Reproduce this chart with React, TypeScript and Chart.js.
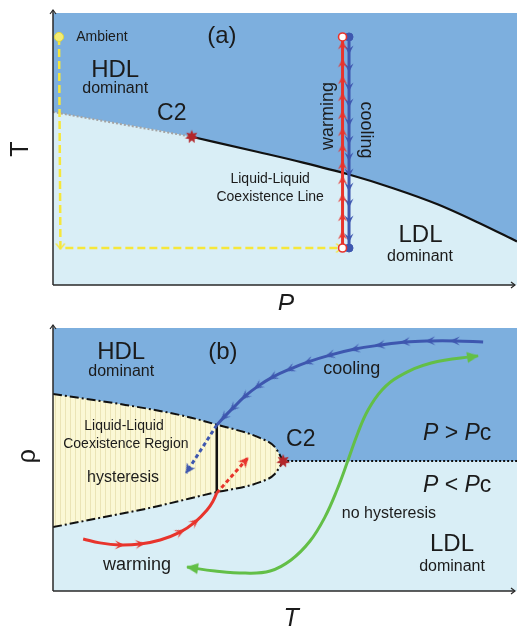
import React, { useEffect, useRef } from 'react';
import { Chart, registerables } from 'chart.js';
Chart.register(...registerables);

type Pt = { x: number; y: number };

// ---------------- Panel (a): T versus P (0..100 schematic units) ----------------
const aHdlTop: Pt[] = [{ x: 0, y: 100 }, { x: 100, y: 100 }];
const aBoundaryDotted: Pt[] = [{ x: 0, y: 63.6 }, { x: 29.9, y: 54.5 }];
const aBoundarySolid: Pt[] = [
  { x: 29.9, y: 54.5 }, { x: 44.2, y: 48.9 }, { x: 53.9, y: 45.0 }, { x: 63.6, y: 40.7 },
  { x: 73.3, y: 35.6 }, { x: 83.0, y: 29.6 }, { x: 91.6, y: 23.0 }, { x: 100, y: 16.0 },
];
const aAmbientPath: Pt[] = [{ x: 1.3, y: 91.2 }, { x: 1.6, y: 13.6 }, { x: 62.0, y: 13.6 }];
const aWarmingP = 62.4;
const aWarmingT = [13.6, 18.4, 25.0, 32.0, 38.6, 44.1, 50.4, 56.3, 62.5, 69.1, 75.4, 81.6, 88.2, 91.2];
const aCoolingP = 63.8;
const aCoolingT = [91.2, 86.4, 79.8, 72.8, 66.9, 59.9, 53.3, 47.1, 41.2, 36.0, 30.1, 23.9, 17.3, 13.6];

// ---------------- Panel (b): rho versus T ----------------
const bHdlTop: Pt[] = [{ x: 0, y: 100 }, { x: 100, y: 100 }];
const bLdlLevel: Pt[] = [{ x: 0, y: 49.4 }, { x: 100, y: 49.4 }];
const bPcLine: Pt[] = [{ x: 49.6, y: 49.4 }, { x: 100, y: 49.4 }];
const bLensUpper: Pt[] = [
  { x: 0, y: 74.9 }, { x: 14.4, y: 71.1 }, { x: 27.4, y: 66.9 }, { x: 35.6, y: 63.1 },
  { x: 44.6, y: 58.2 }, { x: 47.8, y: 54.8 }, { x: 49.6, y: 49.4 },
];
const bLensLower: Pt[] = [
  { x: 0, y: 24.3 }, { x: 10.1, y: 27.8 }, { x: 20.9, y: 31.6 }, { x: 34.5, y: 37.3 },
  { x: 44.6, y: 41.4 }, { x: 47.8, y: 44.5 }, { x: 49.6, y: 49.4 },
];
const bJump: Pt[] = [{ x: 35.3, y: 63.1 }, { x: 35.3, y: 37.6 }];
const bCooling: Pt[] = [
  { x: 92.7, y: 94.7 }, { x: 86.6, y: 95.1 }, { x: 81.3, y: 95.1 }, { x: 75.9, y: 94.7 },
  { x: 70.5, y: 93.5 }, { x: 65.1, y: 92.0 }, { x: 59.7, y: 89.7 }, { x: 55.0, y: 87.1 },
  { x: 51.1, y: 84.4 }, { x: 47.4, y: 81.4 }, { x: 44.2, y: 77.9 }, { x: 41.4, y: 74.1 },
  { x: 38.8, y: 69.6 }, { x: 36.9, y: 66.2 }, { x: 35.3, y: 63.1 },
];
const bCoolingMeta: Pt[] = [{ x: 35.3, y: 63.1 }, { x: 28.7, y: 44.9 }];
const bWarming: Pt[] = [
  { x: 6.5, y: 19.8 }, { x: 10.1, y: 18.3 }, { x: 14.4, y: 17.5 }, { x: 18.8, y: 17.9 },
  { x: 23.1, y: 19.4 }, { x: 27.4, y: 22.4 }, { x: 30.6, y: 26.2 }, { x: 33.2, y: 30.8 },
  { x: 34.5, y: 34.2 }, { x: 35.3, y: 37.3 },
];
const bWarmingArrowIdx = [2, 3, 5, 6];
const bWarmingMeta: Pt[] = [{ x: 35.3, y: 37.3 }, { x: 42.0, y: 50.6 }];
const bSupercritical: Pt[] = [
  { x: 28.9, y: 9.1 }, { x: 34.9, y: 7.6 }, { x: 41.4, y: 6.8 }, { x: 46.8, y: 7.6 },
  { x: 51.3, y: 11.8 }, { x: 55.4, y: 19.0 }, { x: 58.6, y: 28.1 }, { x: 61.2, y: 38.4 },
  { x: 63.6, y: 49.8 }, { x: 65.7, y: 60.1 }, { x: 67.9, y: 68.8 }, { x: 70.9, y: 76.4 },
  { x: 74.4, y: 81.4 }, { x: 81.5, y: 86.7 }, { x: 91.6, y: 89.4 },
];

// ---------------- colours / fonts ----------------
const DARK = '#7DAFDE';
const LIGHT = '#D9EEF6';
const LENS = '#FBF8D5';
const LENS_STRIPE = '#EBE4B6';
const RED = '#E8342C';
const BLUE = '#3E57AF';
const GREEN = '#63BF47';
const YELLOW = '#F6E73A';
const STAR = '#B3262A';
const INK = '#1b1b1b';
const FONT = '"Liberation Sans", Arial, Helvetica, sans-serif';

type Part = { t: string; it?: boolean };
type Label = { text: string | Part[]; x: number; y: number; size: number; rot?: number; align?: 'left' | 'center'; italic?: boolean };

const aLabels: Label[] = [
  { text: 'Ambient', x: 5.0, y: 91.2, size: 14, align: 'left' },
  { text: '(a)', x: 36.4, y: 91.5, size: 24 },
  { text: 'HDL', x: 13.4, y: 78.9, size: 24 },
  { text: 'dominant', x: 13.4, y: 72.1, size: 16 },
  { text: 'C2', x: 25.6, y: 62.9, size: 23 },
  { text: 'Liquid-Liquid', x: 46.8, y: 39.0, size: 14 },
  { text: 'Coexistence Line', x: 46.8, y: 32.4, size: 14 },
  { text: 'warming', x: 59.3, y: 62.1, size: 18, rot: -90 },
  { text: 'cooling', x: 67.5, y: 57.0, size: 18, rot: 90 },
  { text: 'LDL', x: 79.2, y: 18.4, size: 24 },
  { text: 'dominant', x: 79.1, y: 10.3, size: 16 },
  { text: 'T', x: -6.9, y: 50.0, size: 25, rot: -90 },
  { text: 'P', x: 50.2, y: -7.4, size: 25, italic: true },
];

const bLabels: Label[] = [
  { text: 'HDL', x: 14.7, y: 90.7, size: 24 },
  { text: 'dominant', x: 14.7, y: 83.3, size: 16 },
  { text: '(b)', x: 36.6, y: 90.9, size: 24 },
  { text: 'Liquid-Liquid', x: 15.3, y: 62.7, size: 14 },
  { text: 'Coexistence Region', x: 15.7, y: 55.9, size: 14 },
  { text: 'hysteresis', x: 15.1, y: 43.0, size: 16 },
  { text: 'warming', x: 18.1, y: 9.9, size: 18 },
  { text: 'cooling', x: 64.4, y: 84.4, size: 18 },
  { text: 'C2', x: 53.4, y: 57.4, size: 23 },
  { text: [{ t: 'P', it: true }, { t: ' > ' }, { t: 'P', it: true }, { t: 'c' }], x: 87.1, y: 59.7, size: 23 },
  { text: [{ t: 'P', it: true }, { t: ' < ' }, { t: 'P', it: true }, { t: 'c' }], x: 87.1, y: 39.9, size: 23 },
  { text: 'no hysteresis', x: 72.4, y: 29.3, size: 16 },
  { text: 'LDL', x: 86.0, y: 17.9, size: 24 },
  { text: 'dominant', x: 86.0, y: 9.1, size: 16 },
  { text: '\u03C1', x: -5.4, y: 51.3, size: 25, rot: -90 },
  { text: 'T', x: 51.3, y: -10.6, size: 25, italic: true },
];

// ---------------- drawing helpers ----------------
function dart(color: string, len: number, half: number, notch: number, tipAtCenter: boolean): HTMLCanvasElement {
  const s = Math.ceil(2 * len + 6);
  const c = document.createElement('canvas');
  c.width = s; c.height = s;
  const g = c.getContext('2d')!;
  g.translate(s / 2, s / 2);
  const tip = tipAtCenter ? 1 : len / 2;
  g.fillStyle = color;
  g.beginPath();
  g.moveTo(tip, 0);
  g.lineTo(tip - len, -half);
  g.lineTo(tip - len * notch, 0);
  g.lineTo(tip - len, half);
  g.closePath();
  g.fill();
  return c;
}

function chevron(color: string, len: number, half: number, lw: number): HTMLCanvasElement {
  const s = Math.ceil(2 * len + 6);
  const c = document.createElement('canvas');
  c.width = s; c.height = s;
  const g = c.getContext('2d')!;
  g.translate(s / 2, s / 2);
  g.strokeStyle = color; g.lineWidth = lw; g.lineCap = 'round'; g.lineJoin = 'round';
  g.beginPath();
  g.moveTo(-len + 1, -half); g.lineTo(1, 0); g.lineTo(-len + 1, half);
  g.stroke();
  return c;
}

function starImg(color: string, R: number, r: number, n: number): HTMLCanvasElement {
  const s = Math.ceil(2 * R + 4);
  const c = document.createElement('canvas');
  c.width = s; c.height = s;
  const g = c.getContext('2d')!;
  g.translate(s / 2, s / 2);
  g.fillStyle = color;
  g.beginPath();
  for (let k = 0; k < 2 * n; k++) {
    const rad = k % 2 === 0 ? R : r;
    const a = (Math.PI * k) / n - Math.PI / 2;
    if (k === 0) g.moveTo(rad * Math.cos(a), rad * Math.sin(a));
    else g.lineTo(rad * Math.cos(a), rad * Math.sin(a));
  }
  g.closePath();
  g.fill();
  return c;
}

function stripes(): CanvasPattern {
  const c = document.createElement('canvas');
  c.width = 5; c.height = 4;
  const g = c.getContext('2d')!;
  g.fillStyle = LENS; g.fillRect(0, 0, 5, 4);
  g.fillStyle = LENS_STRIPE; g.fillRect(0, 0, 1, 4);
  return g.createPattern(c, 'repeat')!;
}

function dirDeg(chart: any, a: Pt, b: Pt): number {
  const xs = chart.scales.x, ys = chart.scales.y;
  const dx = xs.getPixelForValue(b.x) - xs.getPixelForValue(a.x);
  const dy = ys.getPixelForValue(b.y) - ys.getPixelForValue(a.y);
  return (Math.atan2(dy, dx) * 180) / Math.PI;
}

// rotation along the path; 'in' = incoming segment, 'central' = neighbours
function along(mode: 'in' | 'central') {
  return (ctx: any) => {
    const i = ctx.dataIndex;
    const d = ctx.dataset && (ctx.dataset.data as Pt[]);
    if (i === undefined || !d || d.length < 2) return 0;
    if (mode === 'in' && i > 0) return dirDeg(ctx.chart, d[i - 1], d[i]);
    return dirDeg(ctx.chart, d[Math.max(0, i - 1)], d[Math.min(d.length - 1, i + 1)]);
  };
}

function labelPlugin(items: Label[]) {
  return {
    id: 'labels',
    afterDatasetsDraw(chart: any) {
      const g: CanvasRenderingContext2D = chart.ctx;
      const xs = chart.scales.x, ys = chart.scales.y;
      for (const L of items) {
        const px = xs.getPixelForValue(L.x), py = ys.getPixelForValue(L.y);
        const parts: Part[] = typeof L.text === 'string' ? [{ t: L.text, it: L.italic }] : L.text;
        g.save();
        g.translate(px, py);
        if (L.rot) g.rotate((L.rot * Math.PI) / 180);
        g.fillStyle = INK;
        g.textBaseline = 'middle';
        g.textAlign = 'left';
        const fonts = parts.map((p) => `${p.it ? 'italic ' : ''}${L.size}px ${FONT}`);
        const widths = parts.map((p, k) => { g.font = fonts[k]; return g.measureText(p.t).width; });
        const total = widths.reduce((s, w) => s + w, 0);
        let cx = L.align === 'left' ? 0 : -total / 2;
        parts.forEach((p, k) => { g.font = fonts[k]; g.fillText(p.t, cx, 0); cx += widths[k]; });
        g.restore();
      }
    },
  };
}

const axesPlugin = {
  id: 'axesArrows',
  afterDatasetsDraw(chart: any) {
    const { left, right, top, bottom } = chart.chartArea;
    const g: CanvasRenderingContext2D = chart.ctx;
    g.save();
    g.strokeStyle = '#2a2a2a';
    g.lineWidth = 1.5;
    g.beginPath();
    g.moveTo(left, bottom); g.lineTo(left, top - 3);
    g.moveTo(left, bottom); g.lineTo(right - 2, bottom);
    g.stroke();
    g.lineWidth = 1.2;
    g.beginPath();
    g.moveTo(left - 3, top + 1); g.lineTo(left, top - 3); g.lineTo(left + 3, top + 1);
    g.moveTo(right - 6, bottom - 3); g.lineTo(right - 2, bottom); g.lineTo(right - 6, bottom + 3);
    g.stroke();
    g.restore();
  },
};

function baseOptions(pad: { left: number; right: number; top: number; bottom: number }) {
  return {
    responsive: false,
    animation: false as const,
    events: [] as any[],
    devicePixelRatio: 1,
    layout: { padding: pad, autoPadding: false },
    plugins: { legend: { display: false }, tooltip: { enabled: false } },
    scales: {
      x: { type: 'linear' as const, min: 0, max: 100, display: false },
      y: { type: 'linear' as const, min: 0, max: 100, display: false },
    },
    elements: { point: { radius: 0 }, line: { tension: 0 } },
  };
}

function ds(data: Pt[], extra: any) {
  return { type: 'line', data, borderWidth: 0, pointRadius: 0, fill: false, ...extra };
}

function configA(): any {
  const redDart = dart(RED, 9, 4.5, 0.6, false);
  const blueDart = dart(BLUE, 9, 4.5, 0.6, false);
  const yChev = chevron(YELLOW, 5, 4, 1.6);
  const star = starImg(STAR, 7, 3.5, 7);
  const warm = aWarmingT.map((t) => ({ x: aWarmingP, y: t }));
  const cool = aCoolingT.map((t) => ({ x: aCoolingP, y: t }));
  const last = (n: number, i: number) => i === 0 || i === n - 1;
  return {
    type: 'line',
    data: {
      datasets: [
        ds(aHdlTop, { fill: 'start', backgroundColor: DARK, order: 20 }),
        ds([...aBoundaryDotted, ...aBoundarySolid.slice(1)], { fill: 'start', backgroundColor: LIGHT, cubicInterpolationMode: 'monotone', order: 19 }),
        ds(aBoundaryDotted, { borderColor: '#a3a3a3', borderWidth: 2, borderDash: [2, 2], order: 10 }),
        ds(aBoundarySolid, { borderColor: '#111', borderWidth: 2.2, cubicInterpolationMode: 'monotone', order: 9 }),
        ds(aAmbientPath, {
          borderColor: YELLOW, borderWidth: 2.5, borderDash: [8, 4], order: 7,
          pointRadius: 4.5,
          pointStyle: (c: any) => (c.dataIndex === 0 ? 'circle' : yChev),
          pointBackgroundColor: '#F3EC74', pointBorderColor: '#E5D93A', pointBorderWidth: 1,
          pointRotation: along('in'),
        }),
        ds(cool, {
          borderColor: BLUE, borderWidth: 3, order: 6,
          pointRadius: 4,
          pointStyle: (c: any) => (c.dataIndex !== undefined && last(cool.length, c.dataIndex) ? 'circle' : blueDart),
          pointBackgroundColor: BLUE, pointBorderColor: BLUE, pointBorderWidth: 1,
          pointRotation: along('central'),
        }),
        ds(warm, {
          borderColor: RED, borderWidth: 3, order: 5,
          pointRadius: 4,
          pointStyle: (c: any) => (c.dataIndex !== undefined && last(warm.length, c.dataIndex) ? 'circle' : redDart),
          pointBackgroundColor: '#ffffff', pointBorderColor: RED, pointBorderWidth: 1.6,
          pointRotation: along('central'),
        }),
        ds([aBoundarySolid[0]], { pointRadius: 5, pointStyle: star, order: 1 }),
      ],
    },
    options: baseOptions({ left: 53, right: 0, top: 13, bottom: 25 }),
    plugins: [axesPlugin, labelPlugin(aLabels)],
  };
}

function configB(): any {
  const redDart = dart(RED, 10, 4.5, 0.55, false);
  const blueDart = dart(BLUE, 10, 4.5, 0.55, false);
  const blueHead = dart(BLUE, 10, 5, 0.75, true);
  const redHead = dart(RED, 10, 5, 0.75, true);
  const greenHead = dart(GREEN, 12, 5.5, 1, true);
  const star = starImg(STAR, 7, 3.5, 7);
  const n = bSupercritical.length;
  return {
    type: 'line',
    data: {
      datasets: [
        ds(bHdlTop, { fill: 'start', backgroundColor: DARK, order: 20 }),
        ds(bLdlLevel, { fill: 'start', backgroundColor: LIGHT, order: 19 }),
        ds(bLensUpper, {
          fill: '+1', backgroundColor: stripes(), borderColor: '#111', borderWidth: 2,
          borderDash: [9, 3, 2, 3], cubicInterpolationMode: 'monotone', order: 15,
        }),
        ds(bLensLower, {
          borderColor: '#111', borderWidth: 2, borderDash: [9, 3, 2, 3],
          cubicInterpolationMode: 'monotone', order: 14,
        }),
        ds(bPcLine, { borderColor: '#111', borderWidth: 2, borderDash: [2, 2], order: 13 }),
        ds(bJump, { borderColor: '#111', borderWidth: 2.5, order: 12 }),
        ds(bSupercritical, {
          borderColor: GREEN, borderWidth: 3, tension: 0.4, order: 6,
          pointRadius: (c: any) => (c.dataIndex === 0 || c.dataIndex === n - 1 ? 5 : 0),
          pointStyle: greenHead,
          pointRotation: (c: any) =>
            c.dataIndex === 0
              ? dirDeg(c.chart, bSupercritical[1], bSupercritical[0])
              : dirDeg(c.chart, bSupercritical[n - 2], bSupercritical[n - 1]),
        }),
        ds(bCooling, {
          borderColor: BLUE, borderWidth: 3, tension: 0.4, order: 5,
          pointRadius: (c: any) => (c.dataIndex === 0 || c.dataIndex === bCooling.length - 1 ? 0 : 4),
          pointStyle: blueDart,
          pointRotation: along('central'),
        }),
        ds(bCoolingMeta, {
          borderColor: BLUE, borderWidth: 3, borderDash: [4, 3], order: 5,
          pointRadius: (c: any) => (c.dataIndex === 1 ? 5 : 0),
          pointStyle: blueHead,
          pointRotation: along('in'),
        }),
        ds(bWarming, {
          borderColor: RED, borderWidth: 3, tension: 0.4, order: 4,
          pointRadius: (c: any) => (bWarmingArrowIdx.includes(c.dataIndex) ? 4 : 0),
          pointStyle: redDart,
          pointRotation: along('central'),
        }),
        ds(bWarmingMeta, {
          borderColor: RED, borderWidth: 3, borderDash: [4, 3], order: 4,
          pointRadius: (c: any) => (c.dataIndex === 1 ? 5 : 0),
          pointStyle: redHead,
          pointRotation: along('in'),
        }),
        ds([bPcLine[0]], { pointRadius: 5, pointStyle: star, order: 1 }),
      ],
    },
    options: baseOptions({ left: 53, right: 0, top: 18, bottom: 40 }),
    plugins: [axesPlugin, labelPlugin(bLabels)],
  };
}

export default function App() {
  const r1 = useRef<HTMLCanvasElement>(null);
  const r2 = useRef<HTMLCanvasElement>(null);
  useEffect(() => {
    const c1 = new Chart(r1.current!, configA());
    const c2 = new Chart(r2.current!, configB());
    return () => {
      c1.destroy();
      c2.destroy();
    };
  }, []);
  return (
    <div style={{ position: 'absolute', left: 0, top: 0, width: 517, height: 631, background: '#ffffff' }}>
      <canvas ref={r1} width={517} height={310} style={{ position: 'absolute', left: 0, top: 0 }} />
      <canvas ref={r2} width={517} height={321} style={{ position: 'absolute', left: 0, top: 310 }} />
    </div>
  );
}
